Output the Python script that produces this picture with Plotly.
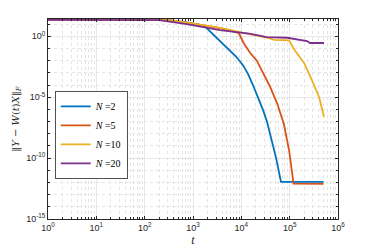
import plotly.graph_objects as go

# log10(t) and log10(value)
blue_t = [0, 2.5, 2.87, 3.1, 3.25, 3.4, 3.56, 3.75, 3.9, 4.03, 4.14, 4.24, 4.37, 4.45, 4.53, 4.63, 4.72, 4.82, 5.7]
blue_v = [1.35, 1.33, 1.15, 0.98, 0.8, 0.21, -0.4, -1.1, -1.7, -2.35, -3.1, -4.0, -5.2, -6.06, -7.0, -8.5, -10.0, -11.95, -11.95]

orange_t = [0, 2.5, 2.87, 3.2, 3.56, 3.8, 3.95, 4.05, 4.18, 4.32, 4.45, 4.59, 4.74, 4.88, 4.99, 5.08, 5.7]
orange_v = [1.35, 1.33, 1.12, 0.92, 0.68, 0.45, 0.25, -0.57, -1.35, -2.0, -3.0, -4.1, -5.5, -7.2, -9.4, -12.1, -12.12]

yellow_t = [0, 2.5, 2.87, 3.2, 3.56, 3.97, 4.3, 4.57, 4.68, 4.99, 5.09, 5.3, 5.46, 5.61, 5.71]
yellow_v = [1.35, 1.33, 1.12, 0.92, 0.7, 0.35, 0.1, -0.16, -0.29, -0.33, -1.07, -2.2, -3.6, -5.0, -6.6]

purple_t = [0, 2.3, 2.87, 3.2, 3.56, 3.9, 4.16, 4.53, 4.95, 5.36, 5.42, 5.71]
purple_v = [1.35, 1.33, 1.0, 0.75, 0.5, 0.35, 0.22, -0.06, -0.12, -0.39, -0.55, -0.55]

series_names = ["<i>N</i> =2", "<i>N</i> =5", "<i>N</i> =10", "<i>N</i> =20"]
colors = ["#0072BD", "#D95319", "#EDB120", "#7E2F8E"]

x_tick_exps = [0, 1, 2, 3, 4, 5, 6]
x_tick_labels = ["10<sup>%d</sup>" % e for e in x_tick_exps]
y_tick_exps = [-15, -10, -5, 0]
y_tick_labels = ["10<sup>%d</sup>" % e for e in y_tick_exps]

fig = go.Figure()
for ts, vs, name, c in zip([blue_t, orange_t, yellow_t, purple_t],
                           [blue_v, orange_v, yellow_v, purple_v],
                           series_names, colors):
    fig.add_trace(go.Scatter(
        x=[10 ** t for t in ts], y=[10 ** v for v in vs], mode="lines",
        name=name, line=dict(color=c, width=1.8)))

x_minor = [k * 10 ** d for d in range(0, 6) for k in range(2, 10)]
y_minor = [10.0 ** e for e in range(-15, 2) if e not in y_tick_exps]

axcol = "#262626"
major_grid = "#e8e8e8"
minor_grid = "#e4e4e4"
fig.update_xaxes(
    type="log", range=[0, 6], automargin=False,
    tickvals=[10 ** e for e in x_tick_exps], ticktext=x_tick_labels,
    ticks="inside", ticklen=3, tickcolor=axcol, tickwidth=0.6,
    showline=True, linecolor=axcol, linewidth=0.8, mirror="allticks",
    showgrid=True, gridcolor=major_grid, gridwidth=0.6, zeroline=False,
    minor=dict(tickvals=x_minor, ticks="inside", ticklen=2, tickcolor=axcol,
               showgrid=True, gridcolor=minor_grid, griddash="dot", gridwidth=0.5),
    tickfont=dict(family="Liberation Sans, Arial", size=9, color=axcol),
    title=dict(text="<i>t</i>", font=dict(family="Liberation Serif, serif", size=12, color=axcol), standoff=1),
)
fig.update_yaxes(
    type="log", range=[-15, 1.42], automargin=False,
    tickvals=[10.0 ** e for e in y_tick_exps], ticktext=y_tick_labels,
    ticks="inside", ticklen=3, tickcolor=axcol, tickwidth=0.6,
    showline=True, linecolor=axcol, linewidth=0.8, mirror="allticks",
    showgrid=True, gridcolor=major_grid, gridwidth=0.6, zeroline=False,
    minor=dict(tickvals=y_minor, ticks="inside", ticklen=2, tickcolor=axcol,
               showgrid=True, gridcolor=minor_grid, griddash="dot", gridwidth=0.5),
    tickfont=dict(family="Liberation Sans, Arial", size=9, color=axcol),
    title=dict(text="‖<i>Y</i> − <i>W</i>(<i>t</i>)<i>X</i>‖<sub><i>F</i></sub>",
               font=dict(family="DejaVu Serif, serif", size=10, color=axcol), standoff=4),
)
# page body has an 8px margin: figure is 366x241 so that it fills the 374x249 window
fig.update_layout(
    width=366, height=241,
    margin=dict(l=40, r=36, t=11, b=30),
    plot_bgcolor="white", paper_bgcolor="white",
    showlegend=True,
    legend=dict(x=0.024, y=0.64, xanchor="left", yanchor="top",
                bgcolor="white", bordercolor=axcol, borderwidth=0.8,
                font=dict(family="Liberation Serif, serif", size=10, color="black"),
                itemwidth=30, tracegroupgap=0),
)
fig.write_html("out.html")
